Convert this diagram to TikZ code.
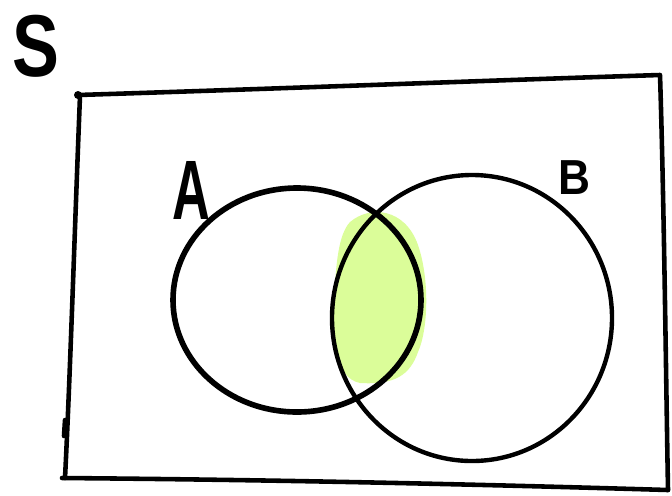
\documentclass[tikz,border=0pt]{standalone}
\usepackage{fontspec}
\setsansfont{Liberation Sans}
\usepackage{tikz}
\usetikzlibrary{calc}
\definecolor{overlapbg}{RGB}{219,253,153}
\tikzset{
  frameline/.style={line width=2.6pt, line cap=round, line join=round},
  setline/.style={line width=#1, line cap=round},
  setlabel/.style={font=\sffamily\bfseries, inner sep=0pt},
}

\begin{document}
\begin{tikzpicture}[x=0.02cm, y=-0.02cm]
  \useasboundingbox (0,0) rectangle (672,495);

  % highlighted overlap A and B
  \fill[overlapbg] (350,222) .. controls (370,205) and (405,208) .. (418,245)
    .. controls (430,280) and (428,330) .. (418,352)
    .. controls (410,375) and (395,385) .. (360,383)
    .. controls (335,378) and (333,340) .. (334,300)
    .. controls (336,265) and (338,235) .. (350,222) -- cycle;

  % sample space
  \draw[frameline] (78,95) .. controls (300,88) and (500,80) .. (660,75)
    .. controls (664,200) and (666,380) .. (668,490);
  \draw[frameline] (62,478) .. controls (300,480) and (500,485) .. (668,490);
  \draw[frameline] (80,96) .. controls (75,220) and (70,380) .. (65,478);
  \draw[frameline] (65,420) -- (64,436);
  \fill (78,95) circle (4);

  % set A and set B
  \draw[setline=3.2pt] (297,300) ellipse [x radius=124, y radius=112];
  \draw[setline=2.5pt] (472,318) ellipse [x radius=140, y radius=143];

  \node[setlabel, font=\sffamily\bfseries\fontsize{50}{50}\selectfont, xscale=0.8] (lblS) at (36,46) {S};
  \node[setlabel, font=\sffamily\bfseries\fontsize{48}{48}\selectfont, xscale=0.62] (lblA) at (191,190) {A};
  \node[setlabel, font=\sffamily\bfseries\fontsize{28}{28}\selectfont, xscale=0.9] (lblB) at (574,178) {B};
\end{tikzpicture}
\end{document}
